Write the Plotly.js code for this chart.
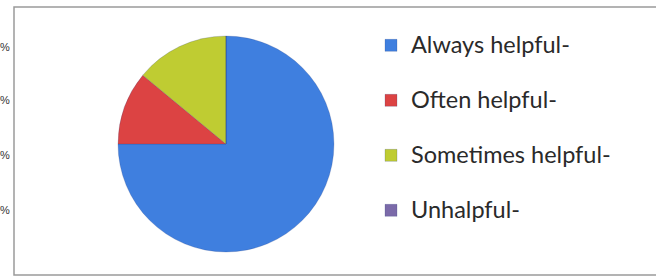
<!DOCTYPE html>
<html>
<head>
<meta charset="utf-8">
<script src="https://cdn.plot.ly/plotly-3.0.1.min.js"></script>
<style>html,body{margin:0;padding:0;background:#fff;}#chart{width:656px;height:278px;}</style>
</head>
<body>
<div id="chart"></div>
<script>
var categories = ["Always helpful-", "Often helpful-", "Sometimes helpful-", "Unhalpful-"];
var shares = [75, 11, 14, 0];
var sliceColors = ["#3f7fdf", "#dc4343", "#bfcc32", "#7b6aa9"];
var sideTicks = ["%", "%", "%", "%"];
var sideTickY = [0.831, 0.64, 0.442, 0.245];

var legendLabels = categories.map(function (c) {
  return '<span style="font-size:23.5px">' + c + '</span><br> ';
});

var annotations = sideTicks.map(function (t, i) {
  return {
    text: t, xref: "paper", yref: "paper", x: 0, y: sideTickY[i],
    xanchor: "left", yanchor: "middle", showarrow: false,
    xshift: -2,
    font: {family: "Liberation Sans", size: 11, color: "#333"}
  };
});

var data = [{
  type: "pie",
  labels: legendLabels,
  values: shares,
  sort: false,
  direction: "clockwise",
  rotation: 0,
  textinfo: "none",
  hoverinfo: "label+percent",
  marker: {colors: sliceColors, line: {color: "rgba(40,60,120,0.35)", width: 0.6}},
  domain: {x: [0.1799, 0.5091], y: [0.0935, 0.8705]}
}];

var layout = {
  width: 656, height: 278,
  margin: {l: 0, r: 0, t: 0, b: 0},
  paper_bgcolor: "#ffffff",
  showlegend: true,
  legend: {
    x: 371 / 656, xanchor: "left", y: 0.907, yanchor: "top",
    valign: "top",
    font: {family: "Lato", size: 20, color: "#2a2a2a"},
    bgcolor: "rgba(0,0,0,0)"
  },
  shapes: [{
    type: "rect", xref: "paper", yref: "paper",
    x0: 14 / 656, x1: 1.02, y0: 3 / 278, y1: 1 - 7 / 278,
    line: {color: "#9a9a9a", width: 1.5}
  }],
  annotations: annotations
};

Plotly.newPlot("chart", data, layout, {staticPlot: true, displayModeBar: false});
</script>
</body>
</html>
